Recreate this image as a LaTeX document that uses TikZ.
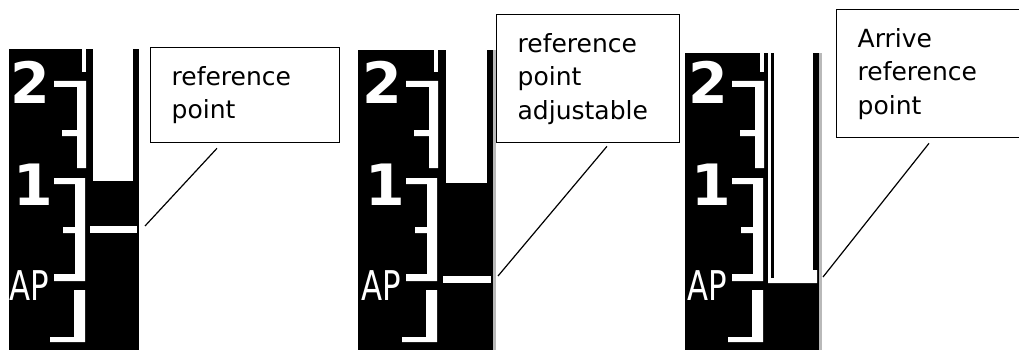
\documentclass[tikz,border=0pt]{standalone}
\usepackage{fontspec}
\setmainfont{DejaVu Sans}
\usetikzlibrary{positioning}

\begin{document}
\begin{tikzpicture}[x=1pt,y=-1pt,
    note/.style={draw=black,line width=1.3pt,anchor=north west,align=left,
                 inner xsep=21pt,inner ysep=0pt,font=\fontsize{25}{33.5}\selectfont},
    digit/.style={white,inner sep=0pt,anchor=base west,font=\bfseries\fontsize{57}{57}\selectfont},
    aplbl/.style={white,inner sep=0pt,anchor=base west,font=\fontsize{41}{41}\selectfont},
    leader/.style={line width=1.2pt}]
  \useasboundingbox (0,0) rectangle (1019,350);
  % black displays
  \fill (9,49) rectangle (139,350);
  \fill (358,50) rectangle (493,350);
  \fill[gray!55] (493,50) rectangle (496,350);
  \fill (685,53) rectangle (819,350);
  \fill[gray!55] (819,53) rectangle (822,350);
  % scale with labels, same on every display
  \foreach \dx/\top/\i in {0/49/1,352/50/2,678/53/3} {
    \fill[white] (\dx+82,\top) rectangle (\dx+86,72);
    \fill[white] (\dx+54,81) rectangle (\dx+86,87)
                 (\dx+77,81) rectangle (\dx+86,168)
                 (\dx+62,130) rectangle (\dx+86,136);
    \fill[white] (\dx+54,178) rectangle (\dx+85,184)
                 (\dx+75,178) rectangle (\dx+85,281)
                 (\dx+63,227) rectangle (\dx+85,233)
                 (\dx+54,274) rectangle (\dx+85,281);
    \fill[white] (\dx+74,290) rectangle (\dx+85,342)
                 (\dx+50,337) rectangle (\dx+85,342);
    \node[digit] (two\i) at (\dx+10,104) {2};
    \node[digit] (one\i) at (\dx+13,205) {1};
    \node[aplbl] (ap\i) at (\dx+9,300) {\scalebox{0.75}[1]{AP}};
  }
  % level tubes and reference marks
  \fill[white] (93,49) rectangle (133,181);
  \fill[white] (90,226) rectangle (137,233);
  \fill[white] (446,50) rectangle (487,183);
  \fill[white] (443,276) rectangle (491,283);
  \fill[white] (768,53) rectangle (813,283);
  \fill (771,53) rectangle (773.5,278);
  \fill[white] (768,278) rectangle (817,283) (813,270) rectangle (817,283);
  % callouts
  \node[note,text width=147pt,minimum height=95pt] (note1) at (150,47) {reference\\point};
  \node[note,text width=141pt,minimum height=128pt] (note2) at (496,14) {reference\\point\\adjustable};
  \node[note,text width=144pt,minimum height=128pt] (note3) at (836,9) {Arrive\\reference\\point};
  \coordinate (mark1) at (145,226);
  \coordinate (mark2) at (498,276);
  \coordinate (mark3) at (823,277);
  \draw[leader] (note1.south west) ++(67,5) -- (mark1);
  \draw[leader] (note2.south west) ++(111,3) -- (mark2);
  \draw[leader] (note3.south west) ++(93,5) -- (mark3);
\end{tikzpicture}
\end{document}
